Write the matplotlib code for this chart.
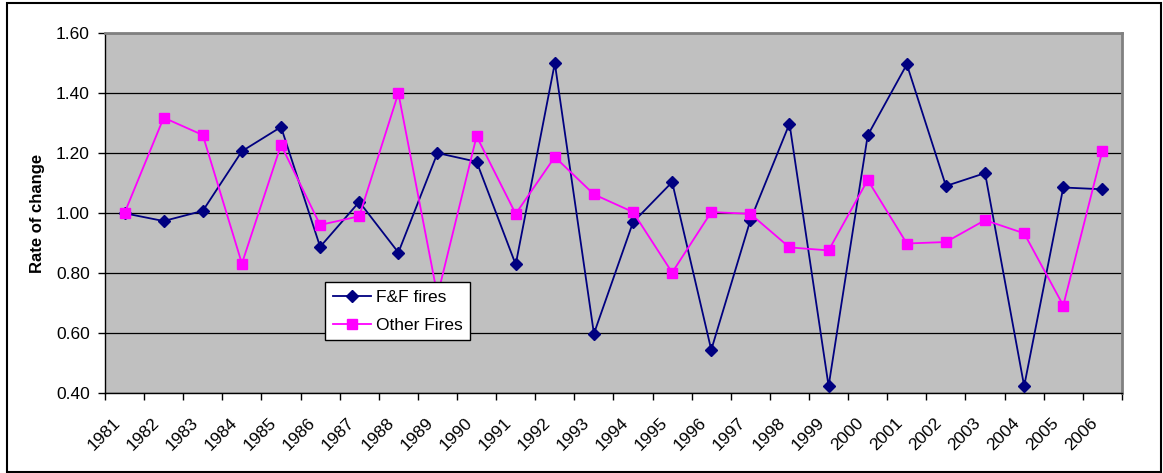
import matplotlib.pyplot as plt
import numpy as np
from matplotlib.patches import Rectangle
from matplotlib.ticker import FixedLocator, FormatStrFormatter
from matplotlib.transforms import ScaledTranslation

plt.rcParams['font.family'] = ['Liberation Sans', 'DejaVu Sans']

years = [str(y) for y in range(1981, 2007)]
ff_fires = [1.00, 0.974, 1.008, 1.207, 1.288, 0.888, 1.038, 0.869, 1.201, 1.172,
            0.829, 1.501, 0.598, 0.970, 1.104, 0.544, 0.977, 1.299, 0.423, 1.260,
            1.497, 1.091, 1.134, 0.423, 1.086, 1.080]
other_fires = [1.001, 1.319, 1.261, 0.832, 1.228, 0.961, 0.990, 1.401, 0.725, 1.257,
               0.998, 1.188, 1.063, 1.004, 0.802, 1.004, 0.998, 0.886, 0.876, 1.111,
               0.899, 0.904, 0.977, 0.933, 0.692, 1.208]

fig = plt.figure(figsize=(11.63, 4.73), dpi=100)
ax = fig.add_axes([0.0903, 0.1691, 0.8744, 0.7601])
ax.set_facecolor('#C0C0C0')

x = np.arange(len(years)) + 0.5
ax.plot(x, ff_fires, color='#000080', lw=1.3, marker='D', ms=6,
        mfc='#000080', mec='#000080', label='F&F fires', zorder=3)
ax.plot(x, other_fires, color='#FF00FF', lw=1.3, marker='s', ms=7,
        mfc='#FF00FF', mec='#FF00FF', label='Other Fires', zorder=3)

ax.set_xlim(0, len(years))
ax.set_ylim(0.4, 1.6)
ax.set_yticks(np.arange(0.4, 1.61, 0.2))
ax.yaxis.set_major_formatter(FormatStrFormatter('%.2f'))
ax.yaxis.grid(True, color='black', lw=0.9)
ax.set_axisbelow(True)

# tick marks on category boundaries, labels at category centres
ax.xaxis.set_major_locator(FixedLocator(np.arange(len(years) + 1)))
ax.xaxis.set_major_formatter(plt.NullFormatter())
ax.xaxis.set_minor_locator(FixedLocator(x))
ax.set_xticklabels(years, minor=True, rotation=45, ha='right', va='center',
                   rotation_mode='anchor', fontsize=12.5)
ax.tick_params(axis='x', which='minor', length=0, pad=19)
ax.tick_params(axis='x', which='major', length=5, direction='out', width=1)
ax.tick_params(axis='y', length=5, direction='out', width=1, labelsize=12.5, pad=6)

shift = ScaledTranslation(-7 / 100, -1 / 100, fig.dpi_scale_trans)
for lab in ax.xaxis.get_minorticklabels():
    lab.set_transform(lab.get_transform() + shift)

for side in ('top', 'right'):
    ax.spines[side].set_color('#808080')
    ax.spines[side].set_linewidth(2)
for side in ('left', 'bottom'):
    ax.spines[side].set_color('black')
    ax.spines[side].set_linewidth(1)

ax.set_ylabel('Rate of change', fontsize=12, fontweight='bold', labelpad=8)

leg = ax.legend(loc='upper left', bbox_to_anchor=(0.2167, 0.3077), fontsize=12.5,
                frameon=True, fancybox=False, framealpha=1, edgecolor='black',
                borderpad=0.45, handlelength=2.2, handletextpad=0.25,
                labelspacing=0.7, borderaxespad=0)
leg.get_frame().set_linewidth(1)
leg.set_zorder(5)

fig.patches.append(Rectangle((0.006, 0.003), 0.9925, 0.9905, transform=fig.transFigure,
                             fill=False, edgecolor='black', lw=1.5))

fig.savefig('out.png', dpi=100)
